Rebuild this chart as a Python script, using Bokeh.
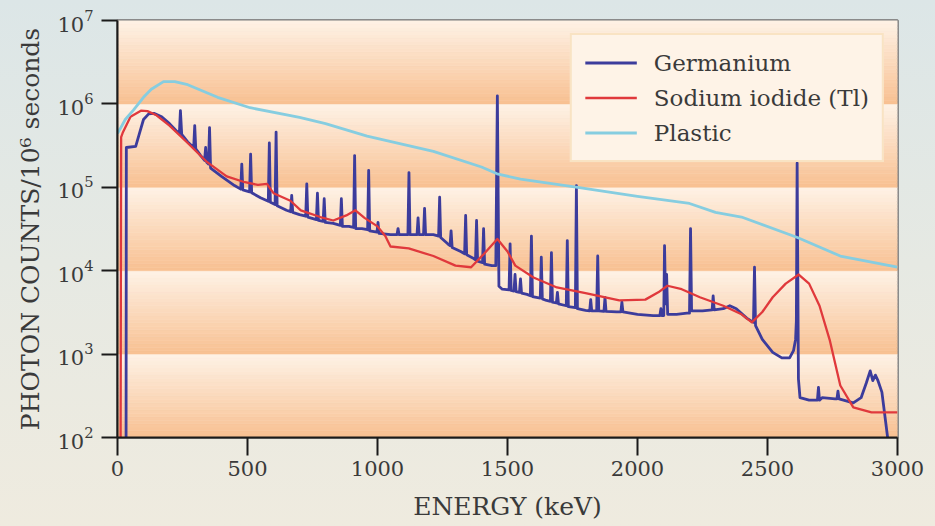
from bokeh.plotting import figure
from bokeh.models import Range1d, Legend, LegendItem, FixedTicker, InlineStyleSheet
from bokeh.embed import file_html
from bokeh.resources import INLINE

# ---------------- data ----------------
x_ticks = [0, 500, 1000, 1500, 2000, 2500, 3000]
y_ticks = [1e2, 1e3, 1e4, 1e5, 1e6, 1e7]

series_names = ["Germanium", "Sodium iodide (Tl)", "Plastic"]

ge_energy = [
    33, 34, 70, 85, 100, 120, 140, 170, 200, 225,
    238, 242, 247, 270, 293, 297, 301, 320, 335, 339, 343, 350, 354, 358,
    400, 450, 474, 478, 482, 508, 512, 516, 550, 580, 584, 588, 606, 610, 614,
    650, 666, 670, 674, 700, 724, 728, 732, 765, 769, 773, 791, 795, 799,
    830, 857, 861, 865, 890, 908, 912, 916, 940, 962, 966, 970, 998, 1002, 1006,
    1050, 1075, 1079, 1083, 1117, 1121, 1125, 1152, 1156, 1160, 1177, 1181, 1185,
    1215, 1235, 1239, 1243, 1270, 1279, 1283, 1287, 1320, 1335, 1339, 1343,
    1370, 1377, 1381, 1385, 1404, 1408, 1412, 1440, 1455, 1461, 1467, 1480,
    1506, 1510, 1514, 1525, 1529, 1533, 1546, 1550, 1554, 1575, 1588, 1592, 1596,
    1626, 1630, 1634, 1650, 1665, 1669, 1673, 1688, 1692, 1696, 1726, 1730, 1734,
    1761, 1765, 1769, 1800, 1816, 1820, 1824, 1843, 1847, 1851, 1871, 1875, 1879,
    1920, 1936, 1940, 1944, 2000, 2060, 2086, 2090, 2094, 2101, 2104, 2108, 2112, 2116,
    2150, 2190, 2200, 2204, 2208, 2250, 2287, 2291, 2295, 2330, 2355, 2380, 2420,
    2446, 2450, 2454, 2480, 2520, 2555, 2585, 2600, 2608, 2611, 2614, 2619, 2625,
    2660, 2692, 2696, 2700, 2710, 2760, 2767, 2771, 2775, 2830, 2860, 2880, 2895,
    2905, 2915, 2925, 2940, 2962,
]
ge_counts = [
    100, 3.0e5, 3.1e5, 4.5e5, 6.5e5, 7.6e5, 7.7e5, 7.0e5, 5.8e5, 4.8e5,
    4.4e5, 8.3e5, 4.3e5, 3.5e5, 3.0e5, 5.5e5, 2.9e5, 2.4e5, 2.1e5, 3.0e5, 2.0e5, 1.9e5, 5.2e5, 1.7e5,
    1.35e5, 1.05e5, 9.5e4, 1.9e5, 9.3e4, 8.8e4, 2.5e5, 8.6e4, 7.5e4, 6.8e4, 3.4e5, 6.6e4, 6.2e4, 4.6e5, 6.0e4,
    5.3e4, 5.1e4, 8.0e4, 5.0e4, 4.7e4, 4.5e4, 1.1e5, 4.4e4, 4.1e4, 8.5e4, 4.0e4, 3.9e4, 7.3e4, 3.8e4,
    3.7e4, 3.5e4, 7.3e4, 3.4e4, 3.4e4, 3.3e4, 2.4e5, 3.2e4, 3.2e4, 3.1e4, 1.6e5, 3.0e4, 2.9e4, 3.8e4, 2.8e4,
    2.7e4, 2.7e4, 3.2e4, 2.7e4, 2.7e4, 1.5e5, 2.7e4, 2.7e4, 4.3e4, 2.7e4, 2.7e4, 5.6e4, 2.7e4,
    2.7e4, 2.6e4, 7.6e4, 2.5e4, 2.1e4, 2.0e4, 3.0e4, 1.9e4, 1.7e4, 1.6e4, 4.6e4, 1.55e4,
    1.4e4, 1.35e4, 4.0e4, 1.3e4, 1.25e4, 3.2e4, 1.2e4, 1.15e4, 1.15e4, 1.25e6, 6.5e3, 6.0e3,
    5.9e3, 2.1e4, 5.8e3, 5.7e3, 9.0e3, 5.6e3, 5.5e3, 8.0e3, 5.4e3, 5.2e3, 5.0e3, 2.6e4, 4.9e3,
    4.7e3, 1.45e4, 4.6e3, 4.4e3, 4.3e3, 1.65e4, 4.2e3, 4.1e3, 5.5e3, 4.0e3, 3.8e3, 2.3e4, 3.7e3,
    3.6e3, 1.05e5, 3.5e3, 3.35e3, 3.3e3, 4.5e3, 3.3e3, 3.3e3, 1.5e4, 3.3e3, 3.25e3, 4.8e3, 3.25e3,
    3.2e3, 3.2e3, 4.2e3, 3.2e3, 3.0e3, 2.9e3, 2.9e3, 3.5e3, 2.9e3, 2.9e3, 2.0e4, 4.0e3, 9.0e3, 3.0e3,
    3.0e3, 3.1e3, 3.1e3, 3.2e4, 3.3e3, 3.3e3, 3.4e3, 5.0e3, 3.4e3, 3.5e3, 3.8e3, 3.5e3, 2.7e3,
    2.4e3, 1.1e4, 2.2e3, 1.5e3, 1.05e3, 9.0e2, 9.0e2, 1.1e3, 1.5e3, 2.5e3, 1.95e5, 5.0e2, 300,
    280, 280, 400, 280, 300, 290, 290, 360, 290, 260, 300, 450, 630,
    480, 560, 480, 350, 100,
]

nai_energy = [
    12, 14, 20, 50, 90, 115, 150, 200, 270, 345, 420, 490, 540, 575, 600,
    665, 705, 780, 830, 880, 915, 950, 1000, 1030, 1050, 1120, 1215, 1300,
    1360, 1410, 1461, 1500, 1530, 1600, 1690, 1800, 1930, 2030, 2080, 2115,
    2170, 2240, 2330, 2400, 2440, 2480, 2520, 2570, 2620, 2660, 2700, 2740,
    2780, 2830, 2900, 3000,
]
nai_counts = [
    100, 4.0e5, 4.5e5, 7.0e5, 8.3e5, 8.2e5, 7.3e5, 5.5e5, 3.4e5, 2.0e5, 1.35e5, 1.15e5, 1.07e5, 1.1e5, 8.5e4,
    6.9e4, 5.3e4, 4.4e4, 4.0e4, 4.6e4, 5.3e4, 4.3e4, 3.4e4, 2.6e4, 1.95e4, 1.85e4, 1.5e4, 1.15e4,
    1.1e4, 1.6e4, 2.4e4, 1.7e4, 1.15e4, 8.3e3, 6.3e3, 5.4e3, 4.4e3, 4.5e3, 5.5e3, 6.6e3,
    6.0e3, 4.8e3, 3.8e3, 3.0e3, 2.4e3, 3.2e3, 4.8e3, 7.0e3, 9.0e3, 7.0e3, 3.8e3, 1.45e3,
    420, 230, 200, 200,
]

plastic_energy = [
    0, 30, 62, 100, 130, 177, 220, 270, 385, 510, 700, 800, 960, 1215, 1400,
    1460, 1550, 1770, 2000, 2200, 2300, 2400, 2615, 2780, 3000,
]
plastic_counts = [
    4.4e5, 6.5e5, 8.5e5, 1.2e6, 1.5e6, 1.85e6, 1.85e6, 1.7e6, 1.2e6, 9.0e5, 6.9e5, 5.8e5, 4.1e5, 2.7e5, 1.75e5,
    1.45e5, 1.25e5, 1.0e5, 7.8e4, 6.4e4, 5.0e4, 4.4e4, 2.5e4, 1.5e4, 1.1e4,
]

# ---------------- styling ----------------
SERIF = "DejaVu Serif"
GE_COLOR = "#3c3c9c"
NAI_COLOR = "#e0393c"
PL_COLOR = "#86cde0"
TEXT_COLOR = "#3a3a3a"

p = figure(
    width=935, height=526,
    x_axis_type="linear", y_axis_type="log",
    x_range=Range1d(0, 3000), y_range=Range1d(1e2, 1e7),
    output_backend="svg", toolbar_location=None,
    min_border_left=117, min_border_right=38,
    min_border_top=20, min_border_bottom=89,
)
p.border_fill_color = "#e5e8e1"
p.border_fill_alpha = 0.0
p.stylesheets = [InlineStyleSheet(css=":host { background: linear-gradient(180deg, #dce6e7 0%, #e6e9e3 50%, #efebdf 100%); }")]
p.background_fill_color = "#fef0e2"
p.outline_line_color = "#8a8a8a"
p.outline_line_width = 3
p.xgrid.visible = False
p.ygrid.visible = False

# background bands: each decade fades from orange (bottom) to cream (top)
dark = (248, 192, 145)
light = (254, 242, 230)
N = 24
bb, bt, bc = [], [], []
for k in range(len(y_ticks) - 1):
    lo = y_ticks[k]
    hi = y_ticks[k + 1]
    for i in range(N):
        f0 = i / N
        f1 = (i + 1) / N
        bb.append(lo * (hi / lo) ** f0)
        bt.append(lo * (hi / lo) ** f1)
        t = (i + 0.5) / N
        c = tuple(int(round(dark[j] + (light[j] - dark[j]) * t)) for j in range(3))
        bc.append("#%02x%02x%02x" % c)
p.quad(left=[x_ticks[0]] * len(bb), right=[x_ticks[-1]] * len(bb),
       bottom=bb, top=bt, fill_color=bc, line_color=bc, line_width=0.5)

r_ge = p.line(ge_energy, ge_counts, line_color=GE_COLOR, line_width=2.8, line_join="round")
r_nai = p.line(nai_energy, nai_counts, line_color=NAI_COLOR, line_width=2.3, line_join="round")
r_pl = p.line(plastic_energy, plastic_counts, line_color=PL_COLOR, line_width=2.8, line_join="round")

# axes
for ax in (p.xaxis[0], p.yaxis[0]):
    ax.axis_line_color = "#1a1a1a"
    ax.axis_line_width = 2
    ax.major_tick_line_color = "#1a1a1a"
    ax.major_tick_line_width = 2
    ax.major_tick_in = 0
    ax.minor_tick_line_color = None
    ax.major_label_text_font = SERIF
    ax.major_label_text_font_size = "21px"
    ax.major_label_text_color = TEXT_COLOR
    ax.axis_label_text_font = SERIF
    ax.axis_label_text_font_size = "25px"
    ax.axis_label_text_font_style = "normal"
    ax.axis_label_text_color = TEXT_COLOR

p.xaxis.ticker = FixedTicker(ticks=x_ticks)
p.xaxis.major_tick_out = 18
p.xaxis.major_label_standoff = 5
p.xaxis.axis_label = "ENERGY (keV)"
p.xaxis.axis_label_standoff = 13

p.yaxis.ticker = FixedTicker(ticks=y_ticks)
p.yaxis.major_tick_out = 16
p.yaxis.major_label_standoff = 8
p.yaxis.axis_label = "PHOTON COUNTS/10\u2076 seconds"
p.yaxis.axis_label_standoff = 9

legend = Legend(
    items=[
        LegendItem(label=series_names[0], renderers=[r_ge]),
        LegendItem(label=series_names[1], renderers=[r_nai]),
        LegendItem(label=series_names[2], renderers=[r_pl]),
    ],
    location="top_right",
    margin=13,
    padding=13,
    spacing=6,
    glyph_width=52,
    glyph_height=29,
    label_height=29,
    label_standoff=17,
    label_text_font=SERIF,
    label_text_font_size="23px",
    label_text_color=TEXT_COLOR,
    border_line_color="#f3d3a0",
    border_line_width=2,
    background_fill_color="#fef3e7",
    background_fill_alpha=1.0,
)
p.add_layout(legend)

open("out.html", "w").write(file_html(p, INLINE))
